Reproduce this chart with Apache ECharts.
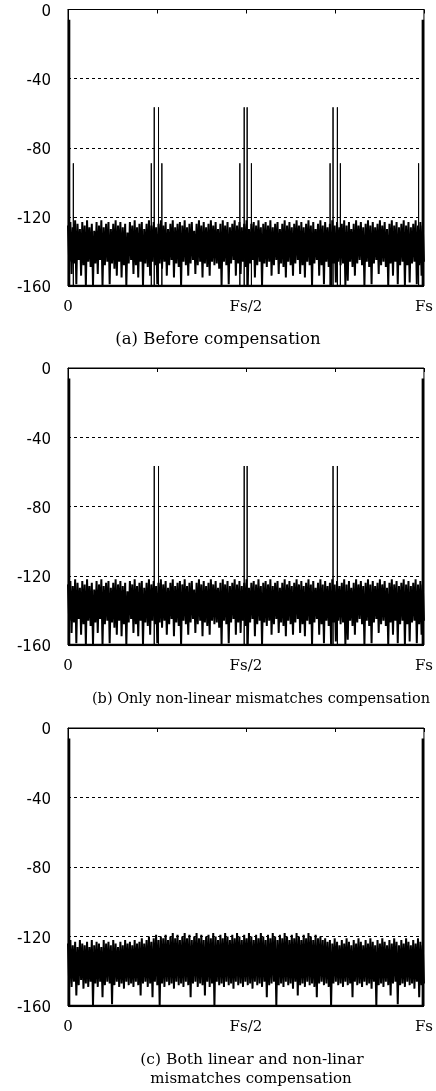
<!DOCTYPE html>
<html><head><meta charset="utf-8">
<script src="https://cdn.jsdelivr.net/npm/echarts@6/dist/echarts.min.js"></script>
<style>html,body{margin:0;padding:0;background:#fff}#c{width:436px;height:1091px}</style>
</head><body><div id="c"></div>
<script>
// ---- data ----
const yMin = -160, yMax = 0, yStep = 40;
const xTickVals = [0, 0.5, 1];
const xTickText = ['0', 'Fs/2', 'Fs'];
const toneFreq = [0.003, 0.997];
const toneDb = [-6, -6];
const spurFreqA = [0.015, 0.234, 0.2423, 0.2543, 0.2637, 0.4828, 0.495, 0.5033, 0.5153, 0.7363, 0.7446, 0.7568, 0.7652, 0.985];
const spurDbA   = [-89, -89, -56.6, -56.6, -89, -89, -56.6, -56.6, -89, -89, -56.6, -56.6, -89, -89];
const spurFreqB = [0.2423, 0.2543, 0.495, 0.5033, 0.7446, 0.7568];
const spurDbB   = [-56.6, -56.6, -56.6, -56.6, -56.6, -56.6];
const spurFreqC = [];
const spurDbC   = [];
// noise floor (alternating local peaks / troughs across 0..Fs), panels (a) and (b) share it
const noiseAB = [
-125,-146,-123,-153,-126,-147,-122,-159,-124,-145,-127,-154,-123,-148,-125,-160,-122,-146,-126,-149,
-124,-160,-128,-147,-123,-153,-125,-145,-122,-160,-126,-148,-124,-146,-123,-159,-127,-147,-124,-150,
-122,-154,-125,-146,-123,-155,-126,-148,-124,-160,-129,-147,-123,-145,-125,-153,-122,-148,-126,-155,
-124,-146,-123,-160,-127,-147,-124,-149,-122,-154,-125,-146,-123,-148,-126,-159,-124,-147,-122,-150,
-125,-146,-123,-154,-127,-148,-124,-145,-122,-155,-126,-147,-124,-149,-123,-160,-125,-146,-122,-148,
-126,-154,-124,-147,-123,-145,-128,-153,-124,-148,-122,-146,-125,-155,-123,-147,-126,-149,-124,-154,
-122,-146,-125,-148,-123,-147,-127,-150,-124,-160,-122,-146,-125,-148,-123,-159,-126,-147,-124,-145,
-122,-154,-125,-147,-123,-153,-126,-146,-124,-149,-122,-160,-127,-147,-124,-145,-123,-155,-125,-148,
-122,-146,-126,-160,-124,-147,-123,-149,-125,-146,-122,-154,-126,-148,-124,-145,-123,-153,-127,-147,
-124,-149,-122,-155,-125,-146,-123,-148,-126,-154,-124,-147,-122,-145,-125,-153,-123,-148,-126,-155,
-124,-146,-122,-148,-125,-160,-123,-147,-127,-145,-124,-154,-122,-148,-125,-159,-123,-146,-126,-149,
-124,-160,-122,-147,-125,-158,-123,-146,-126,-148,-124,-147,-122,-160,-125,-157,-123,-146,-127,-149,
-124,-154,-122,-147,-125,-145,-123,-148,-126,-160,-124,-146,-122,-149,-125,-159,-123,-147,-126,-145,
-124,-153,-122,-148,-125,-146,-123,-149,-127,-160,-124,-147,-122,-154,-125,-146,-123,-159,-126,-148,
-124,-146,-122,-160,-125,-148,-123,-158,-126,-147,-124,-146,-122,-159,-125,-148,-123,-154,-125,-146
];
const noiseC = [
-124,-147,-122,-149,-125,-146,-123,-154,-126,-148,-122,-145,-124,-150,-125,-147,-123,-149,-126,-146,
-122,-160,-125,-147,-123,-149,-124,-146,-126,-155,-122,-148,-124,-146,-123,-147,-125,-159,-122,-148,
-124,-146,-126,-149,-123,-147,-125,-150,-122,-146,-124,-148,-123,-147,-125,-149,-122,-146,-124,-148,
-123,-154,-121,-147,-124,-146,-122,-149,-120,-147,-123,-155,-121,-146,-119,-148,-122,-160,-120,-147,
-121,-149,-119,-146,-122,-148,-120,-147,-118,-150,-121,-146,-119,-148,-122,-147,-120,-149,-118,-146,
-121,-148,-119,-155,-122,-147,-120,-146,-118,-149,-121,-147,-119,-148,-122,-154,-120,-146,-119,-149,
-121,-147,-118,-160,-120,-146,-122,-148,-119,-147,-121,-149,-118,-146,-120,-148,-122,-147,-119,-150,
-121,-146,-118,-148,-120,-147,-122,-149,-119,-146,-121,-148,-118,-147,-120,-150,-122,-146,-119,-148,
-121,-147,-118,-149,-120,-146,-122,-155,-119,-148,-121,-147,-118,-146,-120,-160,-122,-148,-119,-147,
-121,-149,-118,-146,-120,-148,-122,-147,-119,-150,-121,-146,-118,-154,-120,-148,-122,-147,-119,-149,
-121,-146,-118,-148,-120,-147,-122,-149,-119,-155,-121,-147,-120,-146,-122,-148,-121,-147,-123,-149,
-122,-160,-124,-147,-121,-146,-123,-148,-125,-147,-122,-149,-124,-146,-121,-148,-123,-147,-125,-155,
-122,-146,-124,-148,-121,-147,-123,-149,-125,-146,-122,-148,-124,-147,-121,-150,-123,-146,-125,-160,
-122,-148,-124,-147,-121,-149,-123,-146,-125,-148,-122,-154,-124,-147,-121,-146,-123,-159,-125,-148,
-122,-147,-124,-149,-121,-146,-123,-148,-125,-147,-122,-150,-124,-146,-121,-155,-123,-148,-125,-147
];
const captionA = '(a) Before compensation';
const captionB = '(b) Only non-linear mismatches compensation';
const captionC1 = '(c) Both linear and non-linar';
const captionC2 = 'mismatches compensation';

// ---- chart ----
const panels = [
  {noise: noiseAB, sf: spurFreqA, sd: spurDbA, top: 9.5, h: 276.5},
  {noise: noiseAB, sf: spurFreqB, sd: spurDbB, top: 368, h: 277},
  {noise: noiseC,  sf: spurFreqC, sd: spurDbC, top: 728, h: 278}
];
function spikes(freqs, dbs) {
  const out = [];
  freqs.forEach((f, i) => { out.push([f, yMin], [f, dbs[i]], [f, yMin]); });
  return out;
}
const grid = [], xAxis = [], yAxis = [], series = [];
panels.forEach((p, k) => {
  grid.push({left: 68, top: p.top, width: 359, height: p.h, show: true, borderColor: '#000', borderWidth: 1});
  xAxis.push({
    type: 'value', gridIndex: k, min: 0, max: 1, interval: 0.25,
    axisLine: {lineStyle: {color: '#000', width: 1}},
    axisTick: {show: true, length: 4, lineStyle: {color: '#000'}},
    axisLabel: {color: '#000', fontFamily: 'DejaVu Serif', fontSize: 15, margin: 14,
      formatter: v => { const j = xTickVals.indexOf(v); return j >= 0 ? xTickText[j] : ''; }},
    splitLine: {show: false}
  });
  yAxis.push({
    type: 'value', gridIndex: k, min: yMin, max: yMax, interval: yStep,
    axisLine: {show: true, lineStyle: {color: '#000', width: 1}},
    axisTick: {show: false},
    axisLabel: {color: '#000', fontFamily: 'DejaVu Sans', fontSize: 15, margin: 17,
      formatter: v => '{t|' + v + '}',
      rich: {t: {fontFamily: 'DejaVu Sans', fontSize: 15, color: '#000', padding: [5, 0, 0, 0]}}},
    splitLine: {show: true, lineStyle: {color: '#000', width: 1, type: [3, 3]}}
  });
  const n = p.noise.length;
  series.push({
    type: 'line', xAxisIndex: k, yAxisIndex: k, symbol: 'none', silent: true,
    data: p.noise.map((v, i) => [i / (n - 1), v]),
    lineStyle: {color: '#000', width: 2}
  });
  if (p.sf.length) series.push({
    type: 'line', xAxisIndex: k, yAxisIndex: k, symbol: 'none', silent: true,
    data: spikes(p.sf, p.sd), lineStyle: {color: '#000', width: 1}
  });
  series.push({
    type: 'line', xAxisIndex: k, yAxisIndex: k, symbol: 'none', silent: true,
    data: spikes(toneFreq, toneDb), lineStyle: {color: '#000', width: 2.5}
  });
});
function cap(text, x, y, size) {
  return {type: 'text', x: x, y: y, style: {text: text, fill: '#000', font: size + 'px "DejaVu Serif"', textAlign: 'center', textVerticalAlign: 'middle'}};
}
const chart = echarts.init(document.getElementById('c'), null, {renderer: 'canvas'});
chart.setOption({
  animation: false,
  backgroundColor: '#fff',
  grid, xAxis, yAxis, series,
  graphic: [
    cap(captionA, 218, 340, 16.5),
    cap(captionB, 261, 699, 14.5),
    cap(captionC1, 252, 1060, 15.5),
    cap(captionC2, 251, 1079, 15)
  ]
});
</script></body></html>
